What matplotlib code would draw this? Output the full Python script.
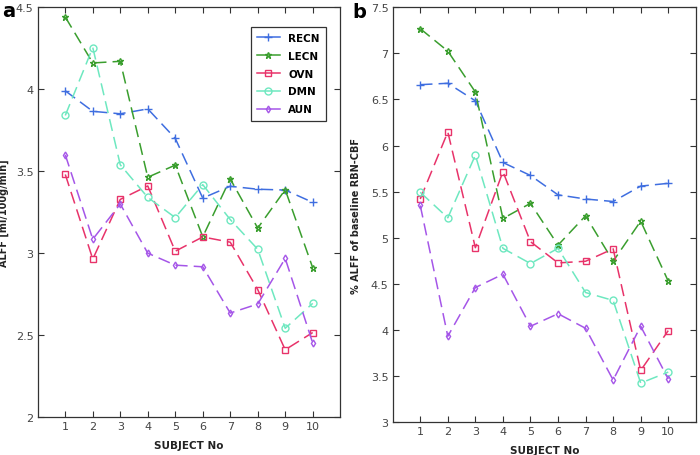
import matplotlib
matplotlib.use('Agg')
import matplotlib.pyplot as plt

subjects = [1, 2, 3, 4, 5, 6, 7, 8, 9, 10]
networks = ['RECN', 'LECN', 'OVN', 'DMN', 'AUN']

# panel a: ALFF [ml/100g/min]
alff_recn = [3.99, 3.865, 3.85, 3.88, 3.70, 3.336, 3.408, 3.39, 3.385, 3.31]
alff_lecn = [4.44, 4.16, 4.17, 3.463, 3.537, 3.10, 3.453, 3.153, 3.387, 2.911]
alff_ovn = [3.48, 2.964, 3.328, 3.41, 3.012, 3.099, 3.067, 2.778, 2.411, 2.516]
alff_dmn = [3.84, 4.254, 3.539, 3.34, 3.217, 3.418, 3.205, 3.024, 2.542, 2.694]
alff_aun = [3.60, 3.085, 3.30, 3.0, 2.927, 2.917, 2.635, 2.69, 2.968, 2.452]

# panel b: % ALFF of baseline RBN-CBF
pct_recn = [6.66, 6.675, 6.485, 5.816, 5.675, 5.465, 5.42, 5.393, 5.56, 5.59]
pct_lecn = [7.267, 7.024, 6.58, 5.209, 5.373, 4.92, 5.238, 4.745, 5.18, 4.529]
pct_ovn = [5.42, 6.147, 4.892, 5.718, 4.957, 4.727, 4.745, 4.88, 3.561, 3.993]
pct_dmn = [5.493, 5.216, 5.896, 4.885, 4.72, 4.885, 4.406, 4.32, 3.424, 3.543]
pct_aun = [5.35, 3.932, 4.46, 4.604, 4.04, 4.176, 4.018, 3.457, 4.04, 3.468]

colors = ['#3f6ee0', '#3a9e2e', '#e8336a', '#6ee8c0', '#a556e8']
markers = ['+', '*', 's', 'o', 'd']
msizes = [6, 4.5, 5, 5, 3.5]

fig = plt.figure(figsize=(7, 4.56), dpi=100)
ax_a = fig.add_axes([0.054, 0.083, 0.432, 0.899])
ax_b = fig.add_axes([0.561, 0.072, 0.433, 0.910])


def draw_panel(ax, series, ylim, yticks, ylabel, label_x):
    for i, vals in enumerate(series):
        ax.plot(subjects, vals, color=colors[i], linestyle=(0, (8, 4)), linewidth=1.1,
                marker=markers[i], markersize=msizes[i], markerfacecolor='none',
                markeredgecolor=colors[i], markeredgewidth=1.0, label=networks[i])
    ax.set_xlim(0, 11)
    ax.set_ylim(ylim)
    ax.set_xticks(subjects)
    ax.set_yticks(yticks)
    ax.set_yticklabels(['%g' % t for t in yticks])
    ax.tick_params(direction='in', top=True, right=True, labelsize=8,
                   labelcolor='#444444', length=4, width=0.8, color='#333333', pad=3)
    for s in ax.spines.values():
        s.set_color('#333333')
        s.set_linewidth(0.9)
    ax.set_xlabel('SUBJECT No', fontsize=7.5, fontweight='bold', color='#222222', labelpad=6)
    ax.set_ylabel(ylabel, fontsize=7, fontweight='bold', color='#222222')
    ax.yaxis.set_label_coords(label_x, 0.5)


draw_panel(ax_a, [alff_recn, alff_lecn, alff_ovn, alff_dmn, alff_aun],
           (2, 4.5), [2, 2.5, 3, 3.5, 4, 4.5], 'ALFF [ml/100g/min]', -0.095)
draw_panel(ax_b, [pct_recn, pct_lecn, pct_ovn, pct_dmn, pct_aun],
           (3, 7.5), [3, 3.5, 4, 4.5, 5, 5.5, 6, 6.5, 7, 7.5], '% ALFF of baseline RBN-CBF', -0.105)

leg = ax_a.legend(loc='upper right', bbox_to_anchor=(0.97, 0.965),
                  prop={'weight': 'bold', 'size': 7.5}, fancybox=False, framealpha=1,
                  edgecolor='#333333', handlelength=2.2, borderpad=0.6, labelspacing=0.75)
leg.get_frame().set_linewidth(0.9)
for line in leg.get_lines():
    line.set_linestyle('-')

fig.text(0.003, 0.975, 'a', fontsize=14, fontweight='bold', va='center', ha='left')
fig.text(0.503, 0.972, 'b', fontsize=14, fontweight='bold', va='center', ha='left')

fig.savefig('out.png', dpi=100)
